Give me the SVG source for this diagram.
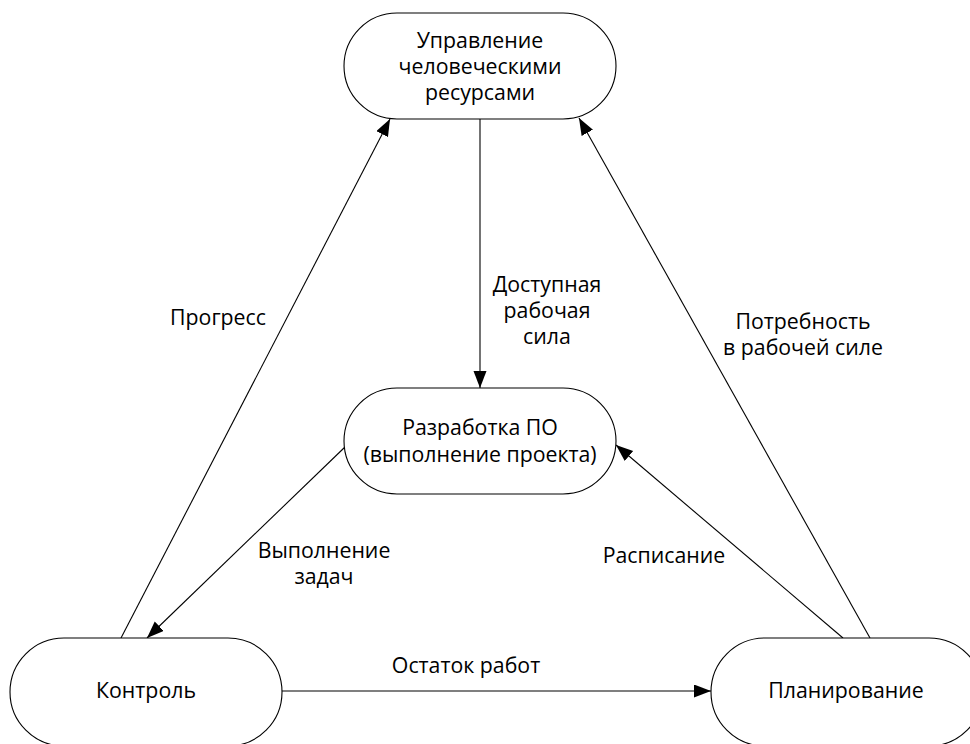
<svg xmlns="http://www.w3.org/2000/svg" width="970" height="744" viewBox="0 0 970 744">
  <style>
    .node { fill: #ffffff; stroke: #000000; stroke-width: 1.1; }
    .edge { fill: none; stroke: #000000; stroke-width: 1.1; marker-end: url(#arrow); }
    text { font-family: "Open Sans", "Noto Sans", "DejaVu Sans", sans-serif; font-size: 21.3px; fill: #000000; text-anchor: middle; }
  </style>
  <defs>
    <marker id="arrow" markerUnits="userSpaceOnUse" markerWidth="18" markerHeight="14" refX="17" refY="6.5" orient="auto">
      <path d="M0,0 L17,6.5 L0,13 z" fill="#000000"/>
    </marker>
  </defs>
  <rect width="970" height="744" fill="#ffffff"/>

  <!-- connectors -->
  <g id="connectors">
    <line class="edge" x1="480" y1="119" x2="480" y2="388"/>
    <line class="edge" x1="121" y1="638" x2="390" y2="119"/>
    <line class="edge" x1="870" y1="638" x2="579" y2="118"/>
    <line class="edge" x1="345" y1="447" x2="147" y2="638"/>
    <line class="edge" x1="843" y1="638" x2="616" y2="445"/>
    <line class="edge" x1="282" y1="691" x2="711" y2="691"/>

    <text x="547" y="292">Доступная</text>
    <text x="547" y="318">рабочая</text>
    <text x="547" y="344">сила</text>
    <text x="218" y="325">Прогресс</text>
    <text x="803" y="329">Потребность</text>
    <text x="803" y="355">в рабочей силе</text>
    <text x="324" y="558">Выполнение</text>
    <text x="324" y="584">задач</text>
    <text x="664" y="563">Расписание</text>
    <text x="466" y="673">Остаток работ</text>
  </g>

  <!-- nodes -->
  <g id="hr">
    <rect class="node" x="344" y="13" width="272" height="106" rx="53" ry="53"/>
    <text x="480" y="48">Управление</text>
    <text x="480" y="74">человеческими</text>
    <text x="480" y="100">ресурсами</text>
  </g>
  <g id="dev">
    <rect class="node" x="344" y="388" width="272" height="106" rx="53" ry="53"/>
    <text x="480" y="435">Разработка ПО</text>
    <text x="480" y="462">(выполнение проекта)</text>
  </g>
  <g id="control">
    <rect class="node" x="10" y="638" width="272" height="108" rx="54" ry="54"/>
    <text x="146" y="698">Контроль</text>
  </g>
  <g id="planning">
    <rect class="node" x="711" y="638" width="272" height="108" rx="54" ry="54"/>
    <text x="846" y="698">Планирование</text>
  </g>
</svg>
